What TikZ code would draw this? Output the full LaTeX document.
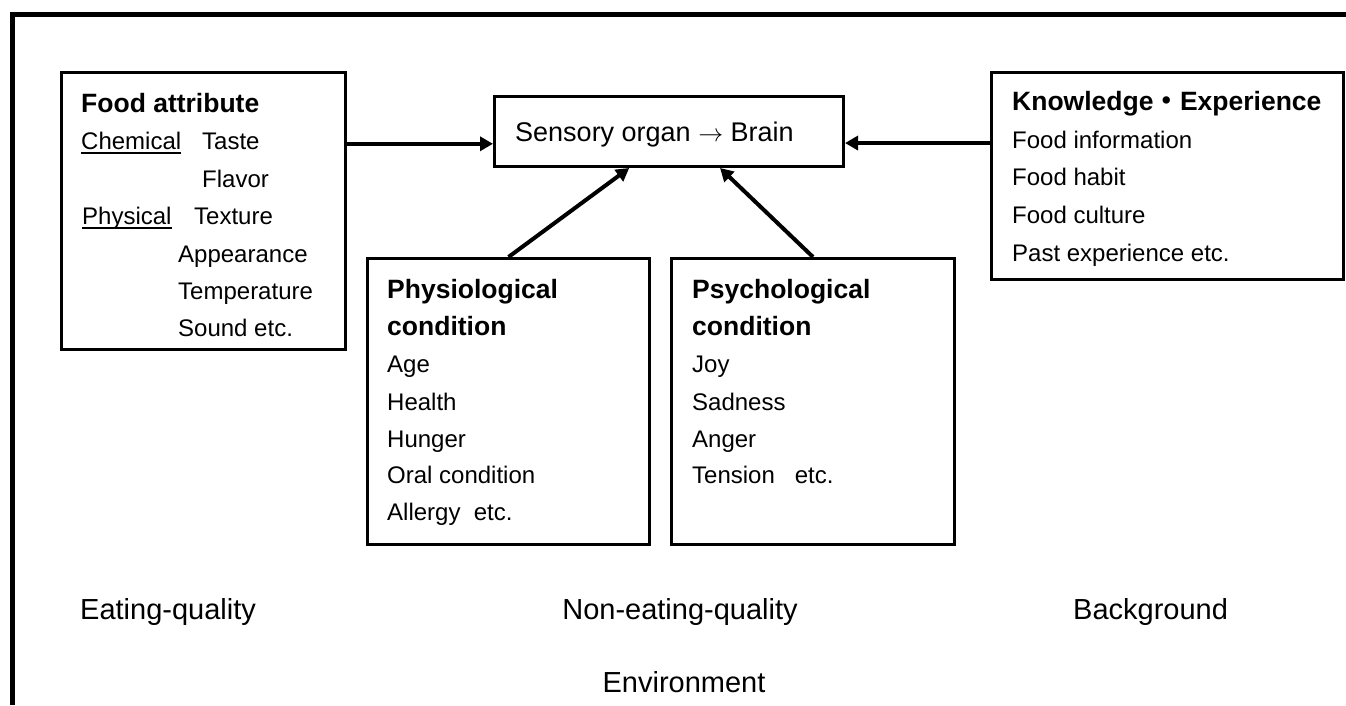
\documentclass[tikz,border=0pt]{standalone}
\usepackage{fontspec}
\setmainfont{Liberation Sans}
\newfontfamily\cjk{Noto Sans CJK JP}
\usetikzlibrary{positioning, arrows.meta, calc}
\newcommand{\ulword}[1]{\setbox0\hbox{#1}\rlap{\rule[-5pt]{\wd0}{2pt}}\box0}

\begin{document}
\begin{tikzpicture}[
    x=1pt, y=-1pt, % one unit per pixel, y downwards
    >={Triangle[length=13pt, width=14pt]},
    box/.style={draw, line width=3pt, anchor=north west, inner sep=0pt},
    item/.style={anchor=base west, inner sep=0pt, font=\fontsize{24}{28}\selectfont},
    head/.style={anchor=base west, inner sep=0pt, font=\fontsize{26.5}{30}\selectfont\bfseries},
    label/.style={anchor=base, inner sep=0pt, font=\fontsize{29}{34}\selectfont}
]
    \useasboundingbox (0,0) rectangle (1346,705);

    % outer frame (open at right and bottom)
    \draw [line width=5pt] (12,705) -- (12,14.5) -- (1346,14.5);

    % Place the boxes
    \node (food) [box, minimum width=284pt, minimum height=277pt] at (60,71) {};
    \node (brain) [box, minimum width=349pt, minimum height=70pt] at (493,95) {};
    \node (know) [box, minimum width=352pt, minimum height=207pt] at (990,71) {};
    \node (phys) [box, minimum width=282pt, minimum height=286pt] at (366,257) {};
    \node (psych) [box, minimum width=283pt, minimum height=286pt] at (670,257) {};

    % Food attribute
    \node (foodH) [head] at (81,112) {Food attribute};
    \node (chem) [item] at (81,149) {\ulword{Chemical}};
    \node (taste) [item] at (202,149) {Taste};
    \node (flavor) [item] at (202,187) {Flavor};
    \node (physc) [item] at (82,224) {\ulword{Physical}};
    \node (texture) [item] at (194,224) {Texture};
    \node (appear) [item] at (178,262) {Appearance};
    \node (temp) [item] at (178,299) {Temperature};
    \node (sound) [item] at (178,336) {Sound etc.};

    % Sensory organ
    \node (brainT) [item, font=\fontsize{27}{32}\selectfont] at (515,141) {Sensory organ $\rightarrow$ Brain};

    % Knowledge and experience
    \node (knowH) [head] at (1012,110) {Knowledge{\cjk ・}Experience};
    \node (info) [item] at (1012,148) {Food information};
    \node (habit) [item] at (1012,185) {Food habit};
    \node (culture) [item] at (1012,223) {Food culture};
    \node (past) [item] at (1012,261) {Past experience etc.};

    % Physiological condition
    \node (physH) [head] at (387,298) {Physiological};
    \node (physH2) [head] at (387,335) {condition};
    \node (age) [item] at (387,372) {Age};
    \node (health) [item] at (387,410) {Health};
    \node (hunger) [item] at (387,447) {Hunger};
    \node (oral) [item] at (387,483) {Oral condition};
    \node (allergy) [item] at (387,520) {Allergy\ \ etc.};

    % Psychological condition
    \node (psychH) [head] at (692,298) {Psychological};
    \node (psychH2) [head] at (692,335) {condition};
    \node (joy) [item] at (692,372) {Joy};
    \node (sad) [item] at (692,410) {Sadness};
    \node (anger) [item] at (692,447) {Anger};
    \node (tension) [item] at (692,483) {Tension\ \ \ etc.};

    % Labels below
    \node (eat) [label, anchor=base west] at (80,619) {Eating-quality};
    \node (noneat) [label] at (680,619) {Non-eating-quality};
    \node (back) [label, anchor=base west] at (1073,619) {Background};
    \node (env) [label] at (684,692) {Environment};

    % Draw the arrows
    \draw [->, line width=4pt] ($(food.north east)!0.26!(food.south east)$) coordinate (fa) -- (fa -| brain.west);
    \draw [->, line width=4pt] ($(know.north west)!0.343!(know.south west)$) coordinate (ke) -- (ke -| brain.east);
    \draw [->, line width=4pt] (phys.north) -- ($(brain.south west)!0.387!(brain.south east)$);
    \draw [->, line width=4pt] (psych.north) -- ($(brain.south west)!0.645!(brain.south east)$);
\end{tikzpicture}
\end{document}
